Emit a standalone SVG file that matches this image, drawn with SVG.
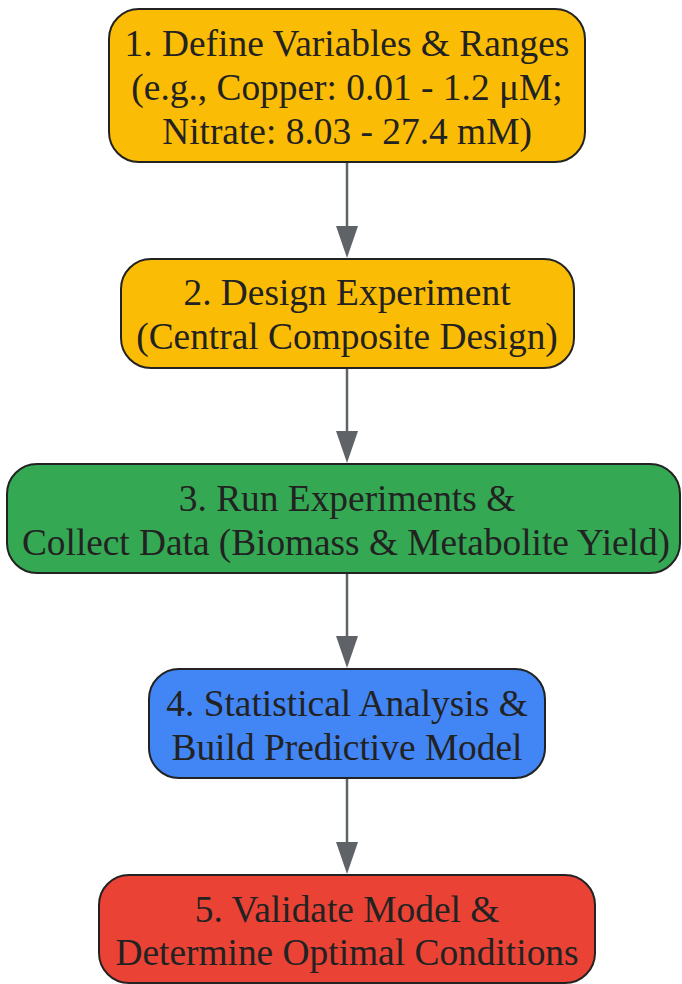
<svg xmlns="http://www.w3.org/2000/svg" width="682" height="984" viewBox="0 0 682 984">
<defs>
<style>
.box{stroke:#222222;stroke-width:2}
.t{font-family:"Liberation Serif","Times New Roman",serif;font-size:37.4px;fill:#222222;text-anchor:middle}
.edge{stroke:#5f6368;stroke-width:2.5;fill:none}
.head{fill:#5f6368}
</style>
</defs>
<rect width="682" height="984" fill="#ffffff"/>
<g id="connectors">
<line class="edge" x1="347" y1="162" x2="347" y2="228"/>
<path class="head" d="M336,226 L358,226 L347,258 Z"/>
<line class="edge" x1="347" y1="368" x2="347" y2="433"/>
<path class="head" d="M336,431 L358,431 L347,463 Z"/>
<line class="edge" x1="347" y1="573" x2="347" y2="638"/>
<path class="head" d="M336,636 L358,636 L347,668 Z"/>
<line class="edge" x1="347" y1="778" x2="347" y2="844"/>
<path class="head" d="M336,842 L358,842 L347,874 Z"/>
</g>
<g id="node1">
<rect class="box" x="109" y="9" width="476" height="153" rx="30" fill="#FBBC05"/>
<text class="t" x="347" y="56">1. Define Variables &amp; Ranges</text>
<text class="t" x="347" y="100">(e.g., Copper: 0.01 - 1.2 μM;</text>
<text class="t" x="347" y="144">Nitrate: 8.03 - 27.4 mM)</text>
</g>
<g id="node2">
<rect class="box" x="121" y="259" width="453" height="109" rx="30" fill="#FBBC05"/>
<text class="t" x="347" y="305">2. Design Experiment</text>
<text class="t" x="347" y="349">(Central Composite Design)</text>
</g>
<g id="node3">
<rect class="box" x="7" y="464" width="673" height="109" rx="30" fill="#34A853"/>
<text class="t" x="347" y="511">3. Run Experiments &amp;</text>
<text class="t" x="346" y="555" textLength="648" lengthAdjust="spacingAndGlyphs">Collect Data (Biomass &amp; Metabolite Yield)</text>
</g>
<g id="node4">
<rect class="box" x="149" y="669" width="396" height="109" rx="30" fill="#4285F4"/>
<text class="t" x="347" y="716">4. Statistical Analysis &amp;</text>
<text class="t" x="347" y="760">Build Predictive Model</text>
</g>
<g id="node5">
<rect class="box" x="99" y="875" width="496" height="108" rx="30" fill="#EA4335"/>
<text class="t" x="347" y="922">5. Validate Model &amp;</text>
<text class="t" x="347" y="965">Determine Optimal Conditions</text>
</g>
</svg>
